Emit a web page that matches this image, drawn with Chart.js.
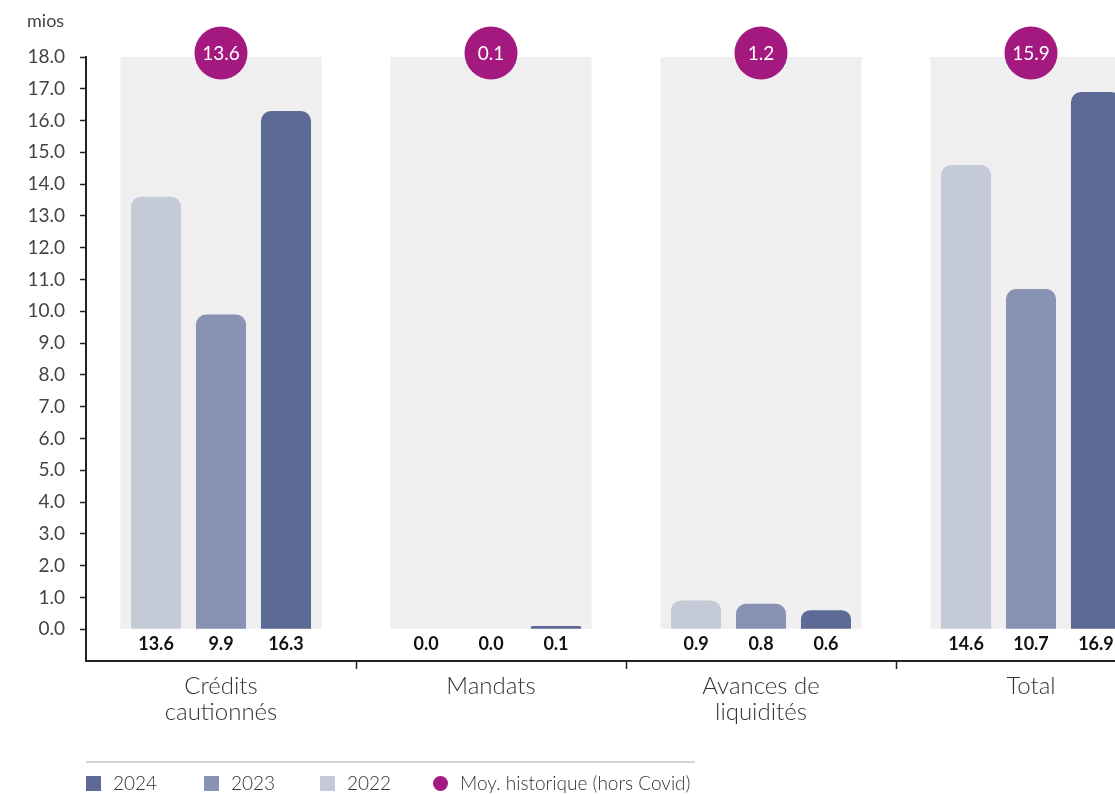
<!DOCTYPE html>
<html>
<head>
<meta charset="utf-8">
<script src="https://cdn.jsdelivr.net/npm/chart.js@4.4.1/dist/chart.umd.min.js"></script>
<style>
  html, body { margin: 0; padding: 0; background: #fff; overflow: hidden; }
  body { width: 1115px; height: 794px; position: relative; font-family: Lato, sans-serif; color: #333; }
  #wrap { position: absolute; left: 0; top: 0; width: 1170px; height: 794px; }
  #unit { position: absolute; left: 27px; top: 9px; font-size: 18px; color: #444; }
  #legendLine { position: absolute; left: 86px; top: 761px; width: 609px; border-top: 2px solid #d4d4d4; }
  .item { position: absolute; top: 771px; font-size: 19px; font-weight: 300; line-height: 24px; white-space: nowrap; }
  .item i { display: inline-block; width: 15px; height: 15px; margin-right: 12px; vertical-align: -1px; }
  .item i.dot { border-radius: 50%; }
</style>
</head>
<body>
<div id="wrap"><canvas id="chart" width="1170" height="794"></canvas></div>
<div id="unit">mios</div>
<div id="legendLine"></div>
<div id="legend"></div>
<script>
const categories = [["Crédits", "cautionnés"], "Mandats", ["Avances de", "liquidités"], "Total"];
const years = ["2022", "2023", "2024"];
const values2022 = [13.6, 0.0, 0.9, 14.6];
const values2023 = [9.9, 0.0, 0.8, 10.7];
const values2024 = [16.3, 0.1, 0.6, 16.9];
const historicalAvg = [13.6, 0.1, 1.2, 15.9];
const yMin = -1;
const yMax = 18;

const colors = { "2022": "#c4cad7", "2023": "#8893b3", "2024": "#5d6a95" };
const panelColor = "#efefef";
const avgColor = "#a4197f";

// legend (html)
const legendItems = [
  { label: "2024", color: colors["2024"], left: 86 },
  { label: "2023", color: colors["2023"], left: 204 },
  { label: "2022", color: colors["2022"], left: 320 },
  { label: "Moy. historique (hors Covid)", color: avgColor, left: 433, dot: true }
];
const legend = document.getElementById("legend");
legendItems.forEach(it => {
  const d = document.createElement("div");
  d.className = "item";
  d.style.left = it.left + "px";
  d.innerHTML = '<i class="' + (it.dot ? "dot" : "") + '" style="background:' + it.color + '"></i>' + it.label;
  legend.appendChild(d);
});

// value labels under each bar
const valueLabels = {
  id: "valueLabels",
  afterDatasetsDraw(chart) {
    const ctx = chart.ctx;
    const y0 = chart.scales.y.getPixelForValue(0);
    ctx.save();
    ctx.font = "bold 18px Lato";
    ctx.fillStyle = "#111";
    ctx.textAlign = "center";
    ctx.textBaseline = "middle";
    chart.data.datasets.forEach((ds, di) => {
      if (!ds.showValue) return;
      chart.getDatasetMeta(di).data.forEach((bar, i) => {
        ctx.fillText(ds.data[i].toFixed(1), bar.x, y0 + 15);
      });
    });
    ctx.restore();
  }
};

// purple circles with historical average
const avgBubbles = {
  id: "avgBubbles",
  afterDatasetsDraw(chart) {
    const ctx = chart.ctx;
    const x = chart.scales.x;
    const yTop = chart.scales.y.getPixelForValue(yMax) - 4;
    ctx.save();
    historicalAvg.forEach((v, i) => {
      const cx = x.getPixelForValue(i);
      ctx.beginPath();
      ctx.arc(cx, yTop, 26.5, 0, Math.PI * 2);
      ctx.fillStyle = avgColor;
      ctx.fill();
      ctx.font = "19px Lato";
      ctx.fillStyle = "#fff";
      ctx.textAlign = "center";
      ctx.textBaseline = "middle";
      ctx.fillText(v.toFixed(1), cx, yTop + 1);
    });
    ctx.restore();
  }
};

const yearData = { "2022": values2022, "2023": values2023, "2024": values2024 };

const chart = new Chart(document.getElementById("chart"), {
  type: "bar",
  data: {
    labels: categories,
    datasets: [
      {
        label: "panel",
        data: categories.map(() => yMax),
        backgroundColor: panelColor,
        grouped: false,
        categoryPercentage: 1,
        barPercentage: 0.745,
        order: 10
      },
      ...years.map(yr => ({
        label: yr,
        data: yearData[yr],
        backgroundColor: colors[yr],
        borderRadius: { topLeft: 10, topRight: 10 },
        borderSkipped: "start",
        categoryPercentage: 0.722,
        barPercentage: 0.77,
        showValue: true,
        order: 0
      }))
    ]
  },
  options: {
    responsive: false,
    animation: false,
    layout: { padding: { top: 57, right: 4, bottom: 0, left: 0 } },
    plugins: { legend: { display: false }, tooltip: { enabled: false } },
    scales: {
      x: {
        grid: {
          offset: true,
          drawOnChartArea: false,
          tickLength: 8,
          tickWidth: 1.5,
          tickColor: c => (c.index === 0 ? "transparent" : "#222")
        },
        border: { color: "#222", width: 2 },
        ticks: {
          autoSkip: false,
          maxRotation: 0,
          padding: 5,
          color: "#333",
          font: { family: "Lato", size: 24, weight: 300, lineHeight: 1.05 }
        },
        afterFit: s => { s.height = 133; }
      },
      y: {
        min: yMin,
        max: yMax,
        grid: {
          drawOnChartArea: false,
          tickLength: 6,
          tickWidth: 1.5,
          tickColor: c => (c.tick && c.tick.value < 0 ? "transparent" : "#222")
        },
        border: { color: "#222", width: 2 },
        ticks: {
          stepSize: 1,
          padding: 15,
          color: "#444",
          font: { family: "Lato", size: 19 },
          callback: v => (v < 0 ? "" : v.toFixed(1))
        },
        afterFit: s => { s.width = 86; }
      }
    }
  },
  plugins: [valueLabels, avgBubbles]
});
</script>
</body>
</html>
